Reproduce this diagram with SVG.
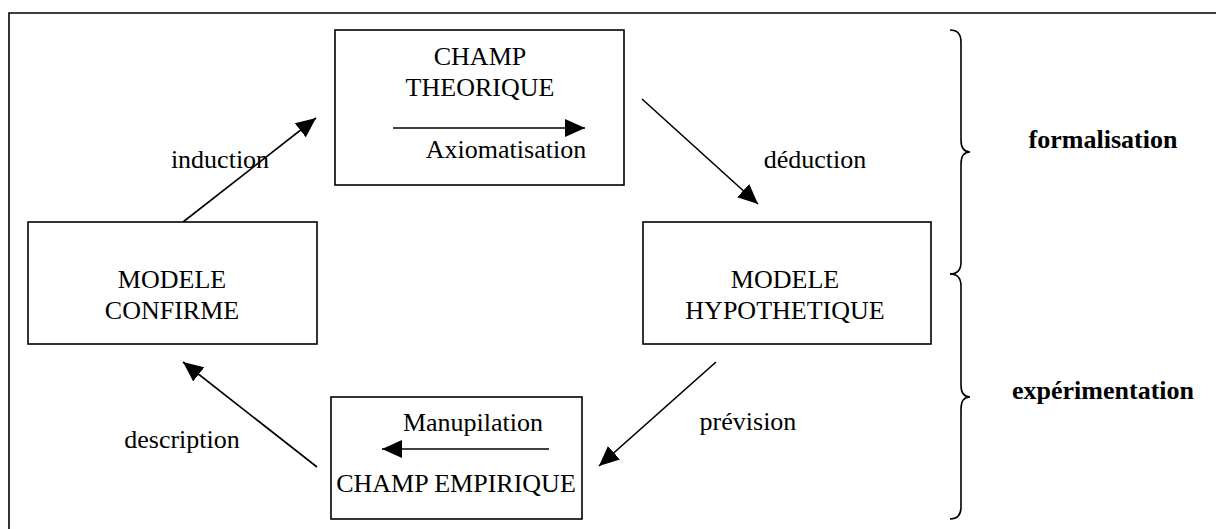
<svg xmlns="http://www.w3.org/2000/svg" width="1216" height="529" viewBox="0 0 1216 529">
  <style>
    .box { fill: #fff; stroke: #000; stroke-width: 1.6; }
    .lbl { font-family: "Liberation Serif", "Times New Roman", serif; font-size: 26px; fill: #000; text-anchor: middle; }
    .bold { font-weight: bold; }
    .wire { stroke: #000; stroke-width: 1.6; fill: none; marker-end: url(#head); }
    .brace { stroke: #000; stroke-width: 1.6; fill: none; }
  </style>
  <defs>
    <marker id="head" markerUnits="userSpaceOnUse" markerWidth="20" markerHeight="18" refX="20" refY="9" orient="auto">
      <path d="M0,0 L20,9 L0,18 z" fill="#000"/>
    </marker>
  </defs>
  <rect width="1216" height="529" fill="#fff"/>

  <!-- outer frame (open to the right and bottom) -->
  <path d="M9,529 V13 H1216" fill="none" stroke="#000" stroke-width="1.6"/>

  <!-- connectors -->
  <g id="connectors">
    <line class="wire" x1="183" y1="222" x2="316" y2="118"/>
    <line class="wire" x1="642" y1="99" x2="758" y2="204"/>
    <line class="wire" x1="716" y1="362" x2="599" y2="466"/>
    <line class="wire" x1="317" y1="467" x2="183" y2="362"/>
  </g>

  <g id="champ-theorique">
    <rect class="box" x="335" y="30" width="289" height="155"/>
    <text class="lbl" x="480" y="65">CHAMP</text>
    <text class="lbl" x="480" y="96">THEORIQUE</text>
    <line class="wire" x1="393" y1="128" x2="585" y2="128"/>
    <text class="lbl" x="506" y="158">Axiomatisation</text>
  </g>

  <g id="modele-confirme">
    <rect class="box" x="28" y="222" width="289" height="122"/>
    <text class="lbl" x="172" y="288">MODELE</text>
    <text class="lbl" x="172" y="319">CONFIRME</text>
  </g>

  <g id="modele-hypothetique">
    <rect class="box" x="643" y="222" width="288" height="122"/>
    <text class="lbl" x="785" y="288">MODELE</text>
    <text class="lbl" x="785" y="319">HYPOTHETIQUE</text>
  </g>

  <g id="champ-empirique">
    <rect class="box" x="331" y="397" width="251" height="122"/>
    <text class="lbl" x="473" y="431">Manupilation</text>
    <line class="wire" x1="549" y1="449" x2="382" y2="449"/>
    <text class="lbl" x="456" y="492">CHAMP EMPIRIQUE</text>
  </g>

  <!-- edge labels -->
  <g id="edge-labels">
    <text class="lbl" x="220" y="168">induction</text>
    <text class="lbl" x="815" y="168">déduction</text>
    <text class="lbl" x="748" y="430">prévision</text>
    <text class="lbl" x="182" y="448">description</text>
  </g>

  <!-- braces grouping the phases -->
  <g id="braces">
    <path class="brace" d="M950,30 C957,30 961,34 961,42 V140 C961,148 964,152 970,152 C964,152 961,156 961,164 V262 C961,270 957,274 950,274"/>
    <path class="brace" d="M950,274 C957,274 961,278 961,286 V385 C961,393 964,397 970,397 C964,397 961,401 961,409 V507 C961,515 957,519 950,519"/>
    <text class="lbl bold" x="1103" y="148">formalisation</text>
    <text class="lbl bold" x="1103" y="399">expérimentation</text>
  </g>
</svg>
